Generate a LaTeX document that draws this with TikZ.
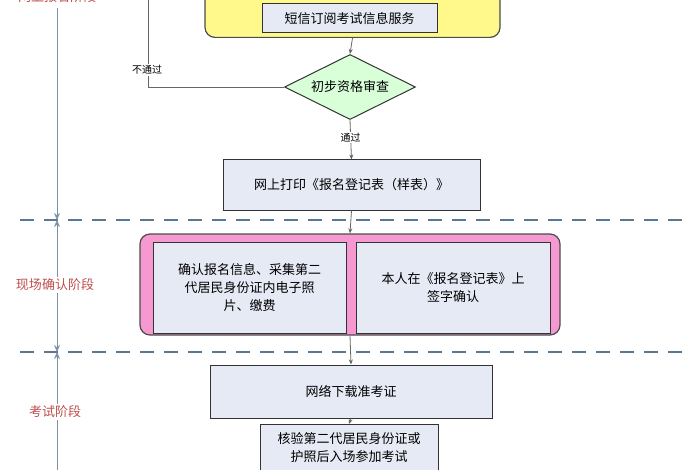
\documentclass[tikz,border=0pt]{standalone}
\usepackage{fontspec}
\setmainfont{Noto Sans CJK SC}
\usetikzlibrary{shapes.geometric,arrows.meta}
\definecolor{boxfill}{HTML}{E6EAF4}
\definecolor{dashc}{HTML}{5A7894}
\definecolor{redt}{HTML}{C0504D}
\tikzset{
 bx/.style={draw=black!80,line width=1pt,fill=boxfill,align=center,font=\fontsize{13}{18}\selectfont,inner sep=0pt},
 conn/.style={draw=gray!80!black,line width=0.8pt,-{Stealth[length=5pt,width=4pt]}},
 phase/.style={text=redt,font=\fontsize{13}{15}\selectfont,fill=white,inner sep=2pt},
 sep/.style={draw=dashc,line width=1.5pt,dash pattern=on 14pt off 10pt},
 vax/.style={draw=dashc!80,line width=0.8pt},
}
\begin{document}
\begin{tikzpicture}[x=1pt,y=-1pt]
\useasboundingbox (0,0) rectangle (700,470);
\fill[white] (0,0) rectangle (700,470);
% yellow
\node[draw=black!70,line width=1.2pt,fill=yellow!45,rounded corners=10pt,minimum width=295pt,minimum height=60pt,anchor=south] (yel) at (352.5,38) {};
\node[bx,minimum width=175pt,minimum height=29pt] (sms) at (349.5,18.5) {短信订阅考试信息服务};
\node[diamond,draw=black!80,line width=1pt,fill=green!15,aspect=2,minimum width=131pt,minimum height=65pt,inner sep=0pt,font=\fontsize{13}{15}\selectfont] (chk) at (350,87) {初步资格审查};
\node[bx,minimum width=257pt,minimum height=50pt] (prt) at (351.5,185) {网上打印《报名登记表（样表）》};
% pink
\node[draw=black!70,line width=1.2pt,fill=magenta!40,rounded corners=10pt,minimum width=420pt,minimum height=101pt] (pink) at (350,284.5) {};
\node[bx,minimum width=193pt,minimum height=91pt] (c1) at (249.5,287.5) {确认报名信息、采集第二\\代居民身份证内电子照\\片、缴费};
\node[bx,minimum width=194pt,minimum height=91pt] (c2) at (453,287.5) {本人在《报名登记表》上\\签字确认};
\node[bx,minimum width=282pt,minimum height=53pt] (dl) at (351,391.5) {网络下载准考证};
\node[bx,minimum width=178pt,minimum height=46pt,anchor=north] (ex) at (349,424) {核验第二代居民身份证或\\护照后入场参加考试};
% connectors
\draw[conn] (yel.south) -- (chk.north);
\draw[conn] (chk.south) -- node[pos=0.45,fill=white,inner sep=1pt,font=\fontsize{10}{12}\selectfont]{通过} (prt.north);
\coordinate (up) at (148,0);
\draw[draw=gray!80!black,line width=0.8pt] (chk.west) -| (up);
\node[fill=white,inner sep=1pt,font=\fontsize{10}{12}\selectfont] (np) at (147,70) {不通过};
\draw[conn] (prt.south) -- (pink.north);
\draw[conn] (pink.south) -- (dl.north);
\draw[conn] (dl.south) -- (ex.north);
% separators
\coordinate (s1a) at (20,220); \coordinate (s1b) at (690,220);
\coordinate (s2a) at (20,352); \coordinate (s2b) at (690,352);
\draw[sep] (s1a) -- (s1b);
\draw[sep] (s2a) -- (s2b);
% phase axis
\coordinate (a0) at (57,8); \coordinate (a1) at (57,220); \coordinate (a2) at (57,352); \coordinate (a3) at (57,470);
\draw[vax,-{Stealth[length=7pt,width=6pt]}] (a0) -- (a1);
\draw[vax,{Stealth[length=7pt,width=6pt]}-{Stealth[length=7pt,width=6pt]}] (a1) -- (a2);
\draw[vax,{Stealth[length=7pt,width=6pt]}-] (a2) -- (a3);
\node[phase,anchor=base] (p1) at (57,2) {网上报名阶段};
\node[phase] (p2) at (55,285) {现场确认阶段};
\node[phase] (p3) at (55,412) {考试阶段};
\end{tikzpicture}
\end{document}
